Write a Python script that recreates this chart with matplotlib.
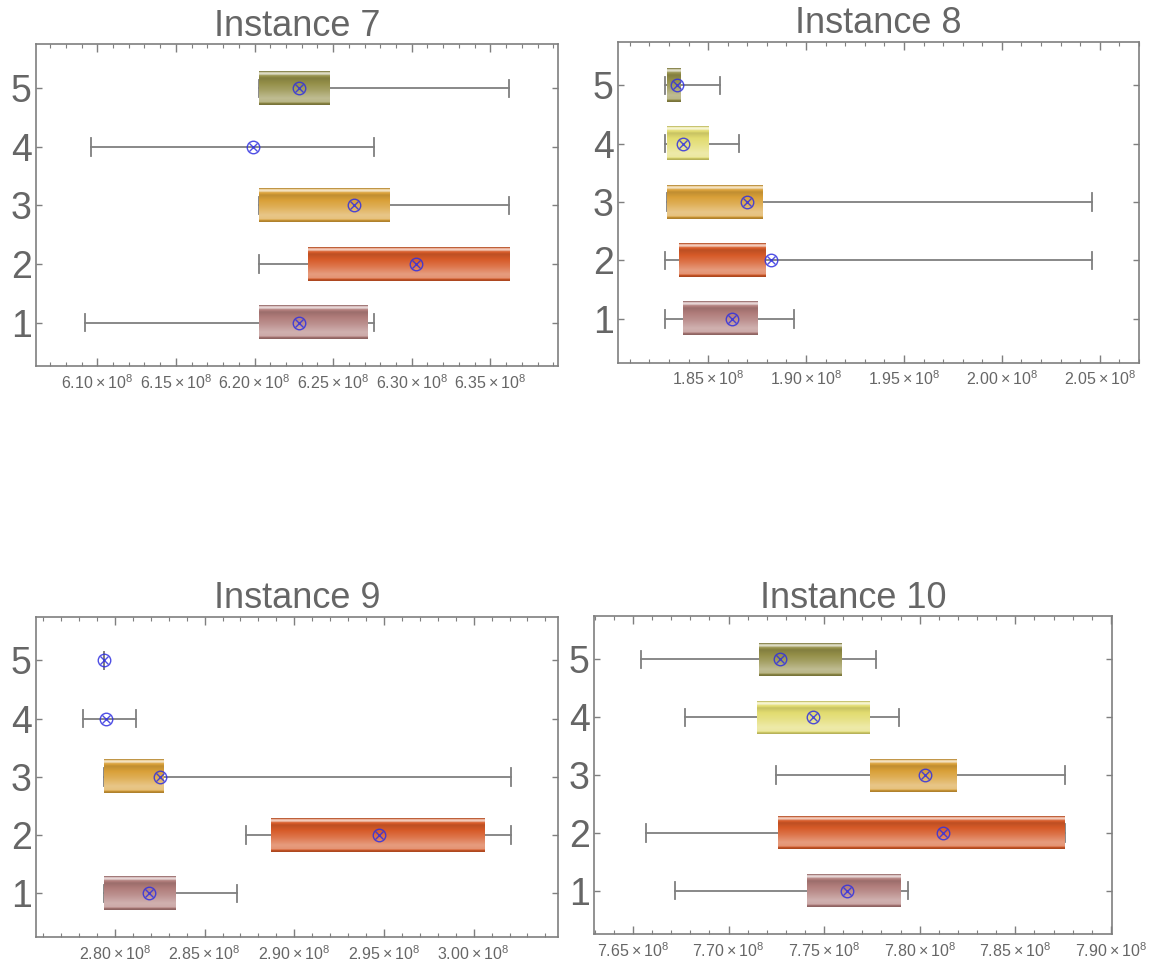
import numpy as np
import matplotlib.pyplot as plt
from matplotlib.colors import to_rgb
from matplotlib.ticker import MultipleLocator, FixedLocator, FuncFormatter

plt.rcParams['font.family'] = ['Liberation Sans', 'DejaVu Sans']
plt.rcParams['mathtext.fontset'] = 'custom'
plt.rcParams['mathtext.rm'] = 'Liberation Sans'

# series 1..5 (bottom to top), values in absolute units
inst7_min  = [609.2e6, 620.3e6, 620.3e6, 609.6e6, 620.3e6]
inst7_q1   = [620.3e6, 623.4e6, 620.3e6, 620.0e6, 620.3e6]
inst7_q3   = [627.2e6, 636.2e6, 628.6e6, 620.0e6, 624.8e6]
inst7_max  = [627.6e6, 636.2e6, 636.2e6, 627.6e6, 636.2e6]
inst7_mean = [622.8e6, 630.3e6, 626.3e6, 619.9e6, 622.8e6]

inst8_min  = [182.8e6, 182.8e6, 182.9e6, 182.8e6, 182.8e6]
inst8_q1   = [183.7e6, 183.5e6, 182.9e6, 182.9e6, 182.9e6]
inst8_q3   = [187.5e6, 187.9e6, 187.8e6, 185.0e6, 183.6e6]
inst8_max  = [189.4e6, 204.6e6, 204.6e6, 186.6e6, 185.6e6]
inst8_mean = [186.2e6, 188.2e6, 187.0e6, 183.7e6, 183.4e6]

inst9_min  = [279.4e6, 287.3e6, 279.4e6, 278.2e6, 279.4e6]
inst9_q1   = [279.4e6, 288.7e6, 279.4e6, 279.4e6, 279.4e6]
inst9_q3   = [283.4e6, 300.6e6, 282.7e6, 279.4e6, 279.4e6]
inst9_max  = [286.8e6, 302.1e6, 302.1e6, 281.2e6, 279.4e6]
inst9_mean = [281.9e6, 294.7e6, 282.5e6, 279.5e6, 279.4e6]

inst10_min  = [767.2e6, 765.7e6, 772.5e6, 767.7e6, 765.4e6]
inst10_q1   = [774.1e6, 772.6e6, 777.4e6, 771.5e6, 771.6e6]
inst10_q3   = [779.0e6, 787.6e6, 781.9e6, 777.4e6, 775.9e6]
inst10_max  = [779.4e6, 787.6e6, 787.6e6, 778.9e6, 777.7e6]
inst10_mean = [776.2e6, 781.2e6, 780.3e6, 774.4e6, 772.7e6]

box_colors = ['#b07c7a', '#d65a28', '#d9a038', '#e2dc70', '#948f48']

# vertical shading profile of the glossy boxes: (position from top, amount)
# positive amount -> towards white, negative -> towards black
shade_stops = [(0.0, -0.25), (0.03, 0.55), (0.08, 0.75), (0.12, 0.1), (0.2, -0.12),
               (0.55, 0.15), (0.8, 0.4), (0.92, 0.35), (0.96, -0.15), (1.0, -0.2)]

GRAY = '#7f7f7f'
TXT = '#666666'
HALF = 0.285


def gradient(color, n=64):
    base = np.array(to_rgb(color))
    pos = [s[0] for s in shade_stops]
    amt = [s[1] for s in shade_stops]
    t = np.linspace(0, 1, n)
    a = np.interp(t, pos, amt)[:, None]
    rgb = np.where(a >= 0, base + (1 - base) * a, base * (1 + a))
    return rgb[:, None, :]


def sci_label(v, pos):
    return r'$\mathregular{%.2f\times10^{8}}$' % (v / 1e8)


def draw_panel(ax, title, lo, q1, q3, hi, mean, xlim, major0):
    for i in range(5):
        y = i + 1
        ax.plot([lo[i], hi[i]], [y, y], color=GRAY, lw=1.3, zorder=2)
        for x in (lo[i], hi[i]):
            ax.plot([x, x], [y - 0.15, y + 0.15], color=GRAY, lw=1.3, zorder=2)
        if q3[i] - q1[i] > 1e4:
            ax.imshow(gradient(box_colors[i]), extent=[q1[i], q3[i], y - HALF, y + HALF],
                      aspect='auto', interpolation='bilinear', zorder=3)
        ax.plot(mean[i], y, 'o', ms=9, mfc='none', mec='#3030e0', mew=1.0, alpha=0.85, zorder=4)
        ax.plot(mean[i], y, 'x', ms=6.3, mec='#3030e0', mew=1.0, alpha=0.85, zorder=4)

    ax.set_xlim(*xlim)
    ax.set_ylim(0.25, 5.75)
    ax.set_title(title, fontsize=26, color=TXT, pad=6)

    ax.xaxis.set_major_locator(FixedLocator([major0 + k * 5e6 for k in range(6)]))
    ax.xaxis.set_minor_locator(MultipleLocator(1e6))
    ax.xaxis.set_major_formatter(FuncFormatter(sci_label))
    ax.set_yticks([1, 2, 3, 4, 5])
    ax.tick_params(axis='x', which='major', direction='in', length=6, width=1, color=GRAY,
                   top=True, labelsize=11.5, labelcolor=TXT, pad=5)
    ax.tick_params(axis='x', which='minor', direction='in', length=3, width=0.8, color=GRAY, top=True)
    ax.tick_params(axis='y', direction='in', length=4, width=1, color=GRAY, right=True,
                   labelsize=27, labelcolor=TXT, pad=3)
    for s in ax.spines.values():
        s.set_color(GRAY)
        s.set_linewidth(1.2)


fig = plt.figure(figsize=(11.49, 9.67), dpi=100)
ax7 = fig.add_axes([0.0313, 0.621, 0.4543, 0.333])
ax8 = fig.add_axes([0.5379, 0.625, 0.4534, 0.332])
ax9 = fig.add_axes([0.0313, 0.031, 0.4543, 0.3312])
ax10 = fig.add_axes([0.517, 0.034, 0.4508, 0.3289])

draw_panel(ax7, 'Instance 7', inst7_min, inst7_q1, inst7_q3, inst7_max, inst7_mean,
           (606.1e6, 639.3e6), 610e6)
draw_panel(ax8, 'Instance 8', inst8_min, inst8_q1, inst8_q3, inst8_max, inst8_mean,
           (180.4e6, 207.0e6), 185e6)
draw_panel(ax9, 'Instance 9', inst9_min, inst9_q1, inst9_q3, inst9_max, inst9_mean,
           (275.6e6, 304.7e6), 280e6)
draw_panel(ax10, 'Instance 10', inst10_min, inst10_q1, inst10_q3, inst10_max, inst10_mean,
           (762.96e6, 790.06e6), 765e6)

fig.savefig('out.png', dpi=100, facecolor='white')
